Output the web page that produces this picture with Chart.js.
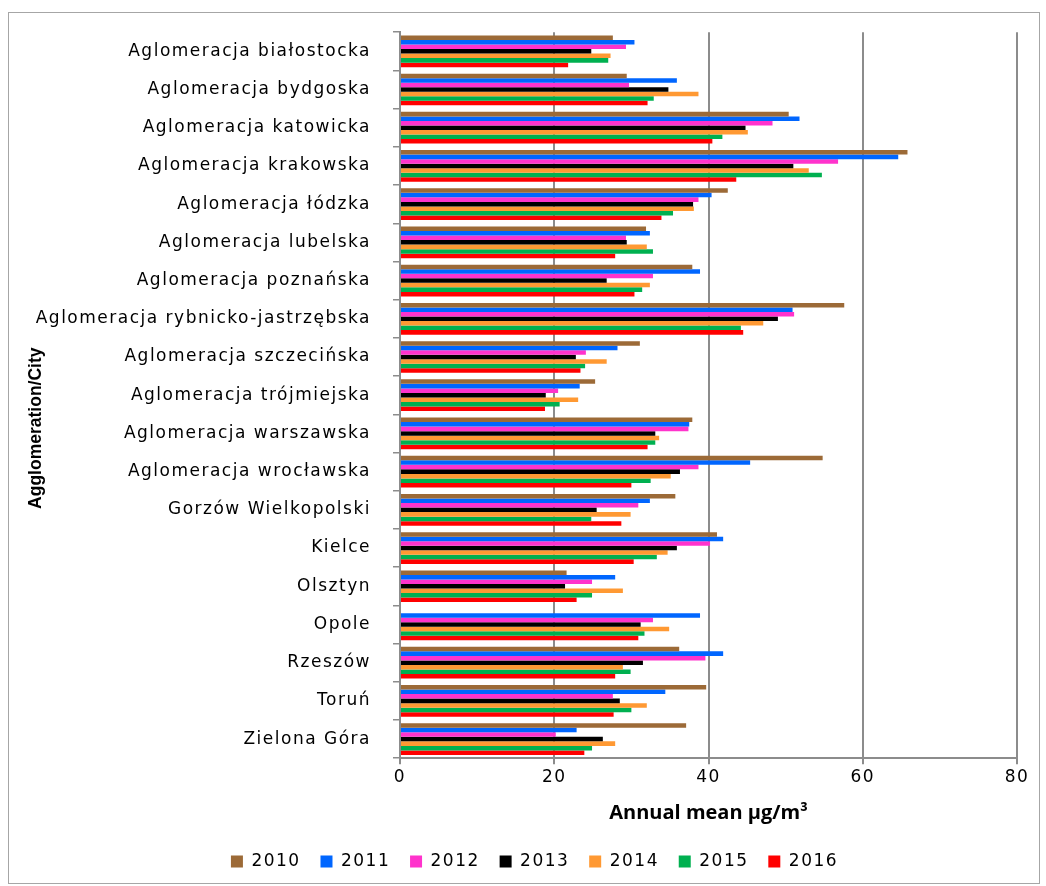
<!DOCTYPE html>
<html>
<head>
<meta charset="utf-8">
<script src="https://cdn.jsdelivr.net/npm/chart.js@4/dist/chart.umd.min.js"></script>
<style>
  body { margin: 0; background: #fff; }
  #wrap { width: 1046px; height: 886px; }
</style>
</head>
<body>
<div id="wrap"><canvas id="pm_chart" width="1046" height="886"></canvas></div>
<script>
var cities = [
  'Aglomeracja białostocka', 'Aglomeracja bydgoska', 'Aglomeracja katowicka',
  'Aglomeracja krakowska', 'Aglomeracja łódzka', 'Aglomeracja lubelska',
  'Aglomeracja poznańska', 'Aglomeracja rybnicko-jastrzębska', 'Aglomeracja szczecińska',
  'Aglomeracja trójmiejska', 'Aglomeracja warszawska', 'Aglomeracja wrocławska',
  'Gorzów Wielkopolski', 'Kielce', 'Olsztyn', 'Opole', 'Rzeszów', 'Toruń', 'Zielona Góra'
];

var y2010 = [27.6, 29.4, 50.4, 65.8, 42.5, 31.9, 37.9, 57.6, 31.1, 25.3, 37.9, 54.8, 35.7, 41.1, 21.6, null, 36.2, 39.7, 37.1];
var y2011 = [30.4, 35.9, 51.8, 64.6, 40.4, 32.4, 38.9, 50.9, 28.2, 23.3, 37.5, 45.4, 32.4, 41.9, 27.9, 38.9, 41.9, 34.4, 22.9];
var y2012 = [29.3, 29.7, 48.3, 56.8, 38.7, 29.3, 32.8, 51.1, 24.1, 20.5, 37.4, 38.7, 30.9, 40.2, 24.9, 32.8, 39.6, 27.6, 20.2];
var y2013 = [24.8, 34.8, 44.8, 51.0, 38.0, 29.4, 26.8, 49.0, 22.8, 18.9, 33.1, 36.3, 25.5, 35.9, 21.4, 31.2, 31.5, 28.5, 26.3];
var y2014 = [27.3, 38.7, 45.1, 53.0, 38.1, 32.0, 32.4, 47.1, 26.8, 23.1, 33.6, 35.1, 29.9, 34.7, 28.9, 34.9, 28.9, 32.0, 27.9];
var y2015 = [27.0, 32.9, 41.8, 54.7, 35.4, 32.8, 31.4, 44.2, 24.0, 20.7, 33.1, 32.5, 24.8, 33.3, 24.9, 31.7, 29.9, 30.0, 24.9];
var y2016 = [21.8, 32.1, 40.5, 43.6, 33.9, 27.9, 30.4, 44.5, 23.4, 18.8, 32.1, 30.0, 28.7, 30.3, 22.9, 30.9, 27.9, 27.7, 23.9];

var years = ['2010', '2011', '2012', '2013', '2014', '2015', '2016'];
var series = [y2010, y2011, y2012, y2013, y2014, y2015, y2016];
var colors = ['#9c6a37', '#0066ff', '#ff33cc', '#000000', '#ff9933', '#00b050', '#ff0000'];

var gridGray = '#8c8c8c';
var fontName = "'DejaVu Sans', sans-serif";

// the reference text is wide, so space the letters out a little
function setSpacing(chart) {
  chart.ctx.letterSpacing = '1.5px';
}

// axis titles: no extra spacing, nudged to where the reference has them
var titleShift = { x: [0, 0], y: [3, 33] };
var legendShift = 16;

function wrapBoxes(chart) {
  ['x', 'y'].forEach(function(id) {
    var sc = chart.scales[id];
    if (!sc || sc._wrapped) return;
    var orig = sc.drawTitle;
    sc.drawTitle = function() {
      var c = this.ctx;
      c.save();
      c.letterSpacing = '0px';
      c.translate(titleShift[id][0], titleShift[id][1]);
      orig.apply(this, arguments);
      c.restore();
    };
    sc._wrapped = true;
  });
  var lg = chart.legend;
  if (lg && !lg._wrapped) {
    var origDraw = lg.draw;
    lg.draw = function() {
      var c = this.ctx;
      c.save();
      c.translate(legendShift, 0);
      origDraw.apply(this, arguments);
      c.restore();
    };
    lg._wrapped = true;
  }
}

// white page plus the thin frame round the whole chart
var framePlugin = {
  id: 'frame',
  beforeInit: setSpacing,
  beforeLayout: setSpacing,
  beforeDraw: function(chart) {
    var ctx = chart.ctx;
    setSpacing(chart);
    wrapBoxes(chart);
    ctx.save();
    ctx.fillStyle = '#ffffff';
    ctx.fillRect(0, 0, chart.width, chart.height);
    ctx.strokeStyle = '#a6a6a6';
    ctx.lineWidth = 1;
    ctx.strokeRect(8.5, 12.5, 1031, 871);
    ctx.restore();
  }
};

var datasets = [];
years.forEach(function(yr, i) {
  datasets.push({
    label: yr,
    data: series[i],
    backgroundColor: colors[i],
    borderWidth: 0,
    categoryPercentage: 0.83,
    barPercentage: 1.0
  });
});

var ctx = document.getElementById('pm_chart');
var pmChart = new Chart(ctx, {
  type: 'bar',
  data: {
    labels: cities,
    datasets: datasets
  },
  plugins: [framePlugin],
  options: {
    indexAxis: 'y',
    responsive: false,
    animation: false,
    layout: {
      padding: { left: 20, right: 29, top: 30, bottom: 6 }
    },
    scales: {
      x: {
        min: 0,
        max: 80,
        ticks: {
          stepSize: 20,
          color: '#000',
          padding: 3,
          font: { family: fontName, size: 17 }
        },
        grid: {
          color: gridGray,
          lineWidth: 2,
          tickLength: 6,
          drawTicks: true
        },
        border: { color: gridGray, width: 2 },
        title: {
          display: true,
          text: 'Annual mean μg/m³',
          color: '#000',
          padding: { top: 0, bottom: 8 },
          font: { family: "'Open Sans', sans-serif", size: 20, weight: 'bold' }
        },
        afterFit: function(scale) { scale.height = 75; }
      },
      y: {
        ticks: {
          color: '#000',
          padding: 22,
          autoSkip: false,
          font: { family: fontName, size: 17 }
        },
        grid: {
          drawOnChartArea: false,
          drawTicks: true,
          tickLength: 7,
          color: gridGray,
          lineWidth: 1.5
        },
        border: { color: gridGray, width: 2 },
        title: {
          display: true,
          text: 'Agglomeration/City',
          color: '#000',
          padding: { top: 3, bottom: 0 },
          font: { family: "'Liberation Sans Narrow', 'Liberation Sans', sans-serif", size: 17.5, weight: 'bold' }
        },
        afterFit: function(scale) { scale.width = 380; }
      }
    },
    plugins: {
      legend: {
        position: 'bottom',
        maxHeight: 56,
        labels: {
          boxWidth: 12,
          boxHeight: 12,
          padding: 19.8,
          color: '#000',
          font: { family: fontName, size: 17 }
        }
      },
      tooltip: { enabled: false }
    }
  }
});
</script>
</body>
</html>
